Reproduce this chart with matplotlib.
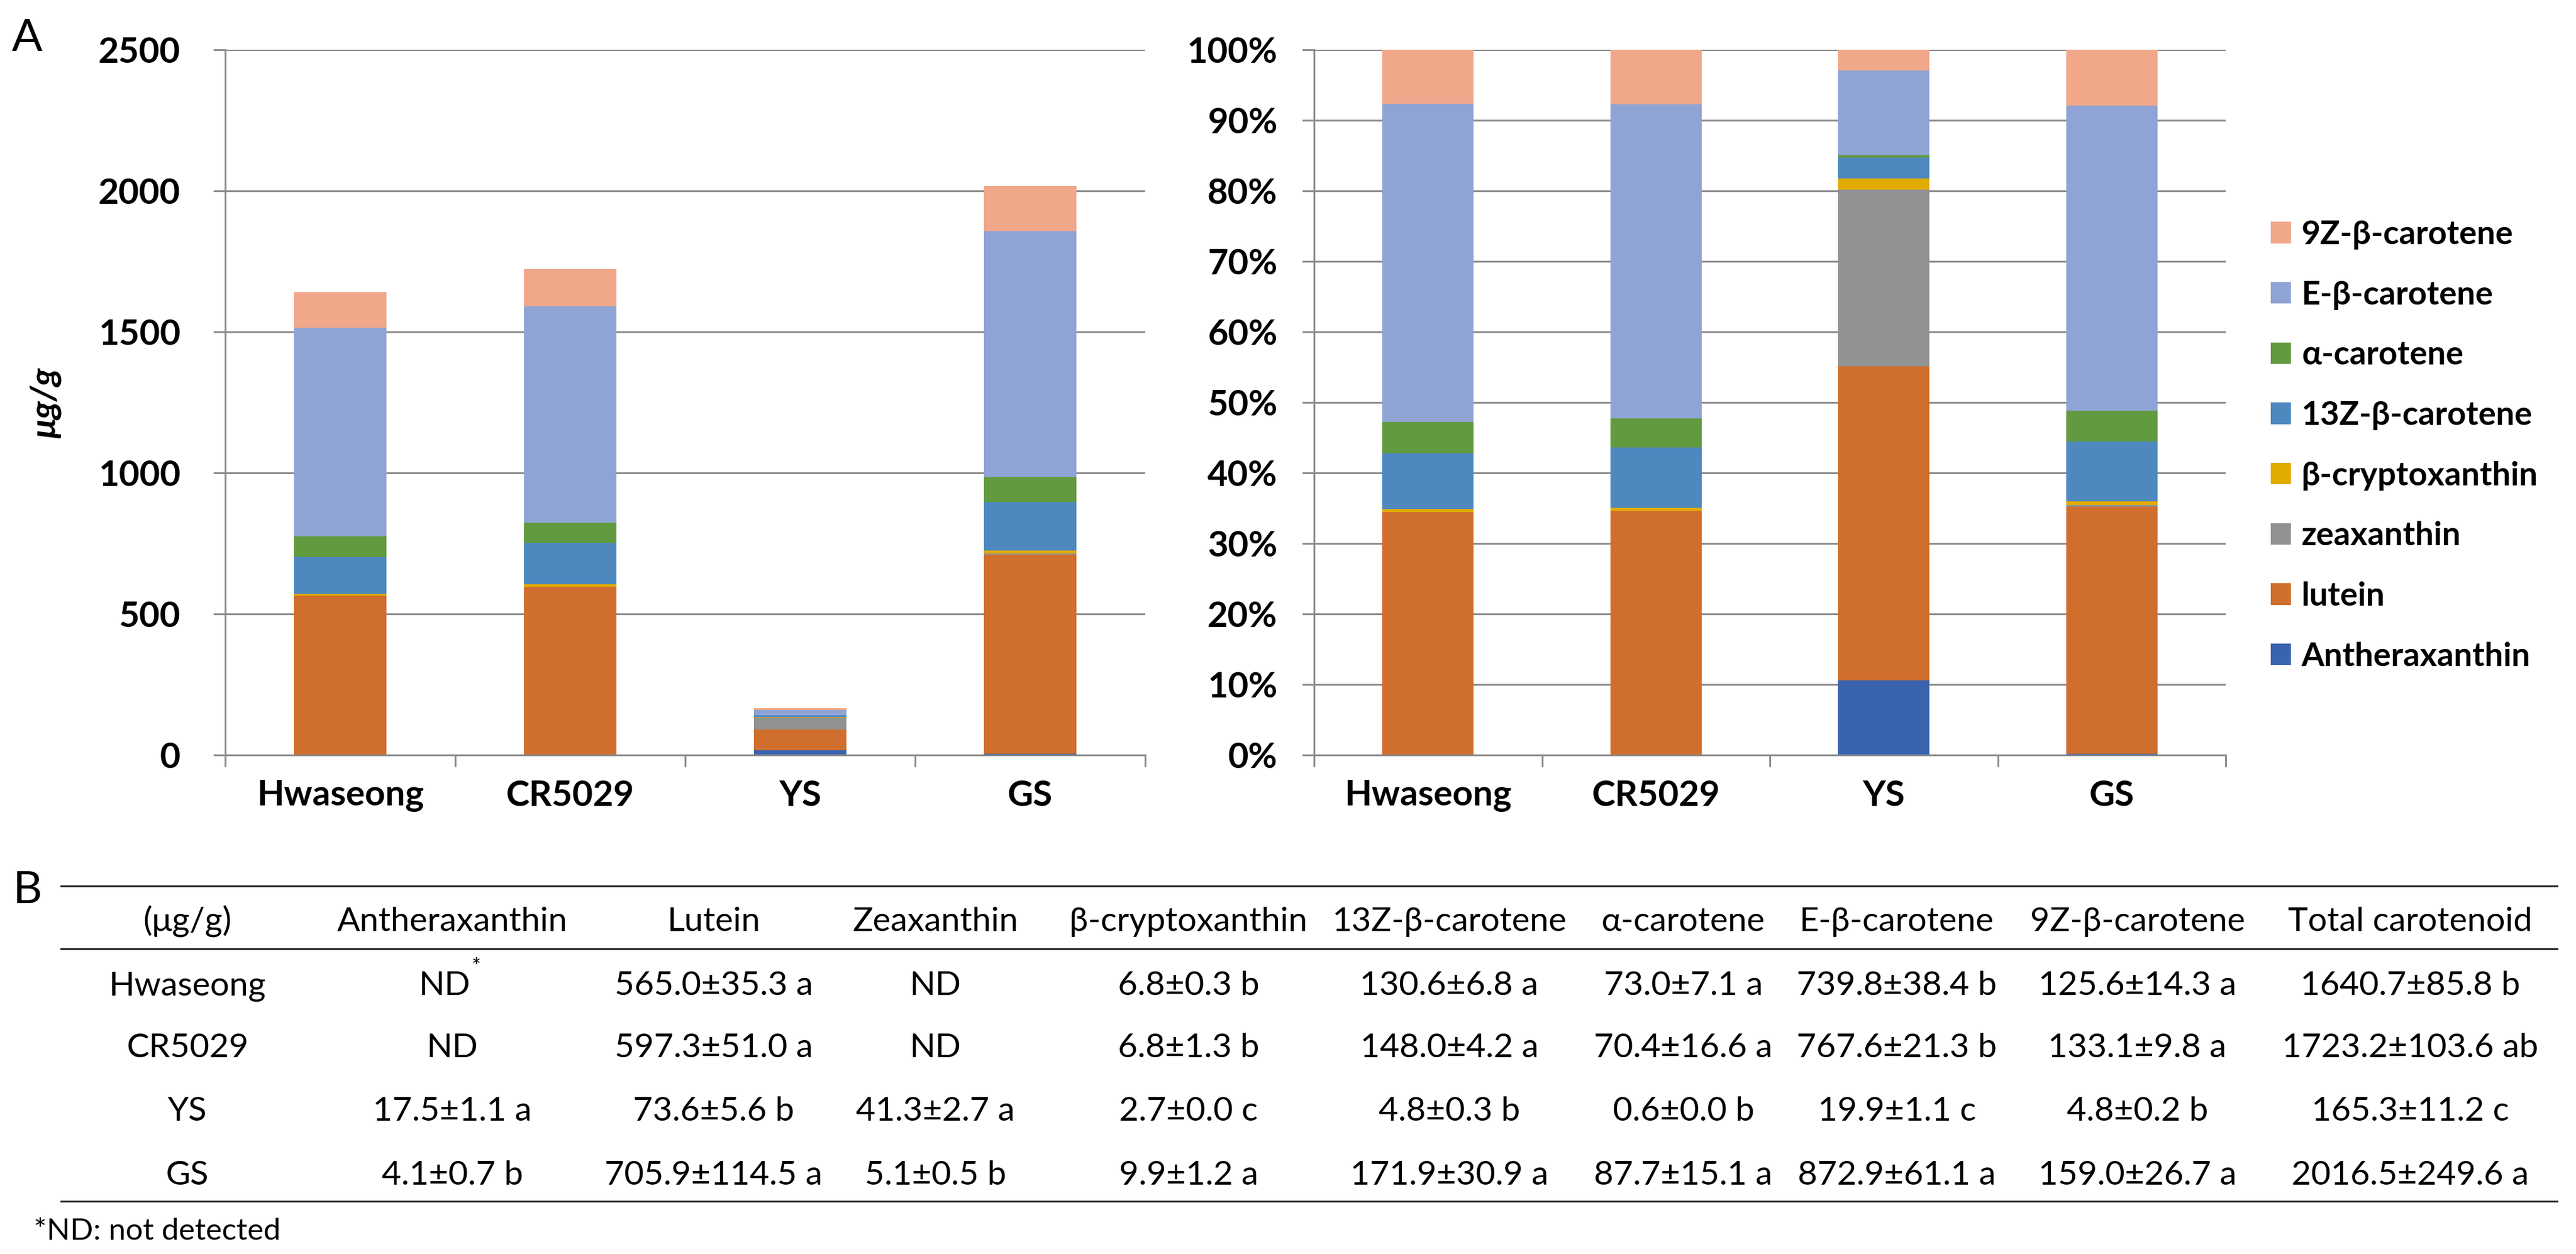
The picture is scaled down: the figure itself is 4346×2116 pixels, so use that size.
import matplotlib
matplotlib.use("Agg")
import matplotlib.pyplot as plt
from matplotlib.patches import Patch
from matplotlib.ticker import FuncFormatter
import numpy as np

plt.rcParams['font.family'] = ['Lato', 'Noto Sans', 'DejaVu Sans']

# =========================
# DATA (ug/g, mean / sd / letter)
# =========================
samples = ["Hwaseong", "CR5029", "YS", "GS"]

antheraxanthin = [0.0, 0.0, 17.5, 4.1]
lutein = [565.0, 597.3, 73.6, 705.9]
zeaxanthin = [0.0, 0.0, 41.3, 5.1]
b_cryptoxanthin = [6.8, 6.8, 2.7, 9.9]
z13_b_carotene = [130.6, 148.0, 4.8, 171.9]
a_carotene = [73.0, 70.4, 0.6, 87.7]
e_b_carotene = [739.8, 767.6, 19.9, 872.9]
z9_b_carotene = [125.6, 133.1, 4.8, 159.0]
total = [1640.7, 1723.2, 165.3, 2016.5]

antheraxanthin_sd = [None, None, 1.1, 0.7]
lutein_sd = [35.3, 51.0, 5.6, 114.5]
zeaxanthin_sd = [None, None, 2.7, 0.5]
b_cryptoxanthin_sd = [0.3, 1.3, 0.0, 1.2]
z13_sd = [6.8, 4.2, 0.3, 30.9]
a_carotene_sd = [7.1, 16.6, 0.0, 15.1]
e_b_sd = [38.4, 21.3, 1.1, 61.1]
z9_sd = [14.3, 9.8, 0.2, 26.7]
total_sd = [85.8, 103.6, 11.2, 249.6]

antheraxanthin_grp = [None, None, "a", "b"]
lutein_grp = ["a", "a", "b", "a"]
zeaxanthin_grp = [None, None, "a", "b"]
b_cryptoxanthin_grp = ["b", "b", "c", "a"]
z13_grp = ["a", "a", "b", "a"]
a_carotene_grp = ["a", "a", "b", "a"]
e_b_grp = ["b", "b", "c", "a"]
z9_grp = ["a", "a", "b", "a"]
total_grp = ["b", "ab", "c", "a"]

legend_names = ["Antheraxanthin", "lutein", "zeaxanthin", "β-cryptoxanthin",
                "13Z-β-carotene", "α-carotene", "E-β-carotene", "9Z-β-carotene"]
colors = ["#3A63AF", "#D06E2D", "#929292", "#E2AB00",
          "#4E88BF", "#629A3F", "#8FA4D4", "#F0A78A"]
stack = [antheraxanthin, lutein, zeaxanthin, b_cryptoxanthin,
         z13_b_carotene, a_carotene, e_b_carotene, z9_b_carotene]

table_header = ["(μg/g)", "Antheraxanthin", "Lutein", "Zeaxanthin", "β-cryptoxanthin",
                "13Z-β-carotene", "α-carotene", "E-β-carotene", "9Z-β-carotene",
                "Total carotenoid"]
table_cols = [
    (antheraxanthin, antheraxanthin_sd, antheraxanthin_grp),
    (lutein, lutein_sd, lutein_grp),
    (zeaxanthin, zeaxanthin_sd, zeaxanthin_grp),
    (b_cryptoxanthin, b_cryptoxanthin_sd, b_cryptoxanthin_grp),
    (z13_b_carotene, z13_sd, z13_grp),
    (a_carotene, a_carotene_sd, a_carotene_grp),
    (e_b_carotene, e_b_sd, e_b_grp),
    (z9_b_carotene, z9_sd, z9_grp),
    (total, total_sd, total_grp),
]

# =========================
# FIGURE
# =========================
W, H = 4346, 2116
fig = plt.figure(figsize=(W / 100, H / 100), dpi=100)

# overlay in pixel coords for labels and table
tab = fig.add_axes([0, 0, 1, 1])
tab.set_xlim(0, W)
tab.set_ylim(H, 0)
tab.axis("off")
tab.patch.set_visible(False)

gc = "#8C8C8C"
lw = 2.2


def box(x0, x1, y0, y1):
    return [x0 / W, 1 - y1 / H, (x1 - x0) / W, (y1 - y0) / H]


ax1 = fig.add_axes(box(380, 1932, 84, 1274))
ax2 = fig.add_axes(box(2217, 3755, 84, 1274))

x = np.arange(len(samples))
vals = np.array(stack)
pct = vals / vals.sum(axis=0) * 100

for ax, data in [(ax1, vals), (ax2, pct)]:
    bottom = np.zeros(len(samples))
    for row, c in zip(data, colors):
        ax.bar(x, row, 0.4, bottom=bottom, color=c, linewidth=0, zorder=2)
        bottom += row


def style(ax, ymax, step, pad):
    ax.set_xlim(-0.5, len(samples) - 0.5)
    ax.set_ylim(0, ymax)
    ax.set_yticks(np.arange(0, ymax + 1, step))
    ax.yaxis.grid(True, color=gc, lw=lw)
    ax.set_axisbelow(True)
    for s in ["top", "right"]:
        ax.spines[s].set_visible(False)
    for s in ["left", "bottom"]:
        ax.spines[s].set_color(gc)
        ax.spines[s].set_linewidth(lw)
    ax.tick_params(axis="y", length=14.4, width=lw, color=gc, pad=pad, labelsize=43)
    for t in ax.get_yticklabels():
        t.set_fontweight("bold")
    ax.set_xticks(np.arange(-0.5, len(samples), 1))
    ax.set_xticklabels([])
    ax.tick_params(axis="x", which="major", length=14.4, width=lw, color=gc)
    ax.set_xticks(x, minor=True)
    ax.set_xticklabels(samples, minor=True, fontweight="bold", fontsize=43)
    ax.tick_params(axis="x", which="minor", length=0, pad=30)


style(ax1, 2500, 500, 40)
style(ax2, 100, 10, 30)
ax2.yaxis.set_major_formatter(FuncFormatter(lambda v, p: f"{v:.0f}%"))
for t in ax2.get_yticklabels():
    t.set_fontweight("bold")

ax1.set_ylabel("μg/g", fontsize=43, fontweight="bold", fontstyle="italic")
ax1.yaxis.set_label_coords(-0.178, 0.5)

handles = [Patch(facecolor=c, label=n) for n, c in zip(legend_names, colors)][::-1]
fig.legend(handles=handles, loc="upper left", bbox_to_anchor=(3831 / W, 1 - 371 / H),
           frameon=False, borderpad=0, borderaxespad=0, prop={"size": 40, "weight": "bold"},
           handlelength=0.61, handleheight=0.63, handletextpad=0.32, labelspacing=0.93)

# panel letters
tab.text(20, 86, "A", fontsize=55, va="baseline", ha="left")
tab.text(22, 1524, "B", fontsize=55, va="baseline", ha="left")

# =========================
# TABLE
# =========================
col_x = [316, 763, 1204, 1578, 2005, 2445, 2840, 3200, 3606, 4066]
row_y = [1679, 1784, 1891, 1999]
fs = 41

for y in [1495, 1601, 2027]:
    tab.plot([103, 4314], [y, y], color="#222222", lw=2.2)

for cx, h in zip(col_x, table_header):
    tab.text(cx, 1571, h, fontsize=fs, ha="center", va="baseline")

for i, name in enumerate(samples):
    tab.text(col_x[0], row_y[i], name, fontsize=fs, ha="center", va="baseline")
    for j, (m, sd, g) in enumerate(table_cols):
        cx = col_x[j + 1]
        if sd[i] is None:
            if i == 0 and j == 0:
                tab.text(cx + 31, row_y[i], "ND", fontsize=fs, ha="right", va="baseline")
                tab.text(cx + 33, row_y[i] - 36, "*", fontsize=26, ha="left", va="baseline")
            else:
                tab.text(cx, row_y[i], "ND", fontsize=fs, ha="center", va="baseline")
        else:
            tab.text(cx, row_y[i], f"{m[i]:.1f}±{sd[i]:.1f} {g[i]}", fontsize=fs,
                     ha="center", va="baseline")

tab.text(57, 2092, "*ND: not detected", fontsize=37, ha="left", va="baseline")

fig.savefig("out.png", dpi=100)
